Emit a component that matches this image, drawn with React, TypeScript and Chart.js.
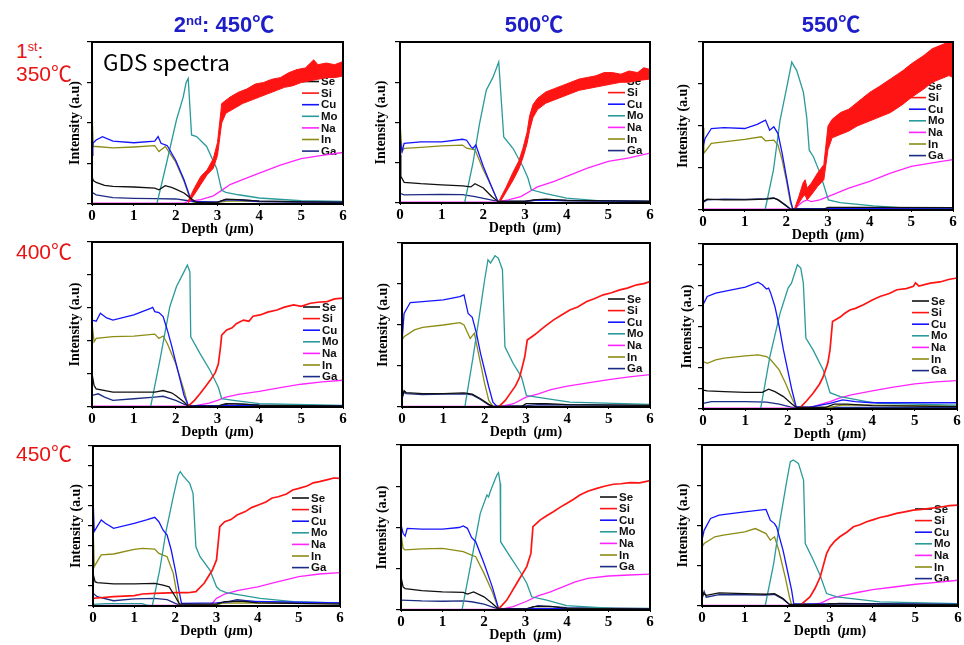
import React, { useEffect, useRef } from 'react';
import { Chart, registerables } from 'chart.js';
Chart.register(...registerables);

type Pt = [number, number];

// ---------- Row 1, col 1 (350 / 450) ----------
const P11_SE: Pt[] = [[0,17],[0.03,14.5],[0.1,13.3],[0.3,11.5],[0.5,10.9],[1.0,10.5],[1.5,9.8],[1.6,8.8],[1.75,11.3],[1.9,10.2],[2.0,9.2],[2.2,6.8],[2.4,2.7],[2.5,1],[3.0,1],[3.2,3],[3.5,2.7],[4.0,1.8],[5,1.3],[6,1.2]];
const P11_GA: Pt[] = [[0,7.2],[0.1,5.7],[0.5,3.9],[1.0,3.5],[1.5,3.3],[2.0,3.1],[2.3,2],[2.5,1],[3.0,1],[3.2,2.7],[3.6,2.5],[4,1.8],[6,1.2]];
const P11_CU: Pt[] = [[0,30],[0.02,37.5],[0.1,39.5],[0.25,41.6],[0.5,38.8],[1.0,37.8],[1.5,38.8],[1.58,41.6],[1.65,37.5],[1.75,36.5],[1.8,36],[2.0,27],[2.2,15],[2.35,3.7],[2.4,1.6],[3.0,1.2],[3.2,2.7],[3.5,2.4],[4,1.5],[6,1]];
const P11_IN: Pt[] = [[0,57],[0.03,35.5],[0.1,35.5],[0.5,34.6],[1.0,35.2],[1.5,36],[1.6,32.4],[1.75,35.5],[2.0,26],[2.2,14],[2.35,2.7],[2.45,1],[3.0,1],[3.3,2],[4,1.5],[6,1]];
const P11_MO: Pt[] = [[1.55,0],[1.78,25],[2.02,52],[2.18,66],[2.25,75],[2.3,77.5],[2.38,42.6],[2.5,41.6],[2.74,35.5],[2.98,22],[3.1,8.4],[3.2,7.2],[3.5,5.7],[4.0,3.7],[5,2],[6,1.6]];
const P11_NA: Pt[] = [[0,0.6],[2.2,0.6],[2.3,1.6],[2.6,2.7],[2.9,5],[3.1,8.4],[3.3,12],[3.6,15],[4.0,19],[4.5,24],[5.0,28],[5.5,30],[6.0,31.8]];
const P11_SI_LO: Pt[] = [[2.3,0.5],[2.45,6],[2.6,12],[2.75,18],[2.9,22],[3.0,30],[3.1,50],[3.2,56],[3.4,59],[3.6,62],[3.8,64],[4.0,66],[4.2,68],[4.4,70],[4.6,72],[4.8,73],[5.0,75],[5.2,76],[5.4,77],[5.6,78],[5.8,78],[6,79]];
const P11_SI_HI: Pt[] = [[2.3,2],[2.45,10],[2.6,17],[2.75,21],[2.9,28],[3.0,38],[3.08,57],[3.1,62],[3.3,66],[3.5,69],[3.7,71],[3.9,74],[4.1,75],[4.3,77],[4.5,78],[4.7,81],[4.9,83],[5.1,84],[5.3,89],[5.4,86],[5.6,87],[5.8,86],[6,88]];

// ---------- Row 1, col 2 (350 / 500) ----------
const P12_SE: Pt[] = [[0,30],[0.02,16.5],[0.1,12.8],[0.5,12],[1.0,11.3],[1.5,10.7],[1.7,10],[1.8,12],[2.0,9.3],[2.2,4],[2.35,1],[3.0,1],[3.2,2],[3.5,2.4],[4,1.6],[6,1]];
const P12_GA: Pt[] = [[0,6],[0.1,5],[1.0,5.4],[1.5,5.2],[1.8,4],[2.35,1],[3.0,1],[3.3,2],[4,1.4],[6,1]];
const P12_CU: Pt[] = [[0,40],[0.05,32],[0.1,37],[0.5,38],[1.0,38],[1.5,39.6],[1.6,39],[1.7,35],[1.75,34],[1.82,36],[2.0,22.7],[2.2,10],[2.35,1],[3,1],[3.3,1.8],[6,1]];
const P12_IN: Pt[] = [[0,49.5],[0.05,32],[0.1,34],[0.5,34.6],[1.0,35.5],[1.5,36],[1.6,34],[1.8,33],[2.0,20.6],[2.2,10],[2.35,1],[3,1],[3.3,1.8],[6,1]];
const P12_MO: Pt[] = [[1.55,0],[1.75,24.7],[1.91,49.5],[2.07,70],[2.23,78],[2.37,87.6],[2.49,41],[2.71,34],[2.95,22.7],[3.07,15.5],[3.15,8.2],[3.5,5.8],[4.0,3],[4.96,1],[6,1]];
const P12_NA: Pt[] = [[0,0.5],[2.3,0.5],[2.4,1],[2.6,2],[2.9,4],[3.1,7],[3.3,10],[3.7,13.4],[4.0,16.5],[4.5,21.6],[5.0,25.8],[5.5,28],[6.0,31]];
const P12_SI_LO: Pt[] = [[2.4,0.5],[2.55,7],[2.71,14],[2.85,21],[2.95,28],[3.05,37],[3.11,45],[3.19,53],[3.3,58],[3.5,62],[3.7,64],[3.9,66],[4.1,68],[4.3,70],[4.5,71],[4.7,72],[4.9,73],[5.1,74],[5.3,75],[5.5,75],[5.7,76],[6,77]];
const P12_SI_HI: Pt[] = [[2.38,1.5],[2.55,10],[2.71,19],[2.85,26],[2.95,34],[3.05,44],[3.11,54],[3.19,61],[3.3,65],[3.5,69],[3.7,71],[3.9,73],[4.1,75],[4.3,77],[4.5,78],[4.7,79],[4.9,81],[5.1,81],[5.3,80],[5.5,82],[5.7,81],[5.85,84],[6,83]];

// ---------- Row 1, col 3 (350 / 550) ----------
const P13_SE: Pt[] = [[0,5],[0.1,6.5],[0.5,6],[1.0,6],[1.5,6.5],[1.7,7],[1.8,6],[2.0,2.4],[2.1,0.5],[2.9,0.5],[3.0,1.6],[4,1.6],[6,1.4]];
const P13_GA: Pt[] = [[0,4.5],[0.1,6],[0.5,6.5],[1.0,6.3],[1.5,6.8],[1.7,7.2],[1.8,6.2],[2.0,2.6],[2.1,0.5],[6,0.6]];
const P13_CU: Pt[] = [[0,37.6],[0.05,42.6],[0.2,48.5],[0.5,49],[1.0,48.5],[1.3,51],[1.5,53.5],[1.6,47.5],[1.7,49.5],[1.8,45.5],[1.9,33.7],[2.0,19.8],[2.1,6],[2.15,1],[6,0.6]];
const P13_IN: Pt[] = [[0,49],[0.02,33.7],[0.2,39.6],[0.5,40.6],[1.0,42],[1.4,43.6],[1.5,41.2],[1.7,41.6],[1.8,38.6],[1.9,29.7],[2.0,17.8],[2.1,4],[2.15,1],[6,0.6]];
const P13_MO: Pt[] = [[1.49,0],[1.69,23.8],[1.85,53.5],[2.01,73],[2.13,88],[2.25,83],[2.41,70],[2.49,55],[2.55,35.6],[2.65,31.7],[2.81,21.8],[3.01,6],[3.29,4.4],[4.09,2.4],[5,1],[6,0.8]];
const P13_NA: Pt[] = [[0,0.5],[2.2,0.5],[2.3,3],[2.4,5],[2.5,6],[2.6,5],[2.8,6],[3.0,8],[3.5,13],[4.0,17],[4.5,22],[5.0,26],[5.5,28],[6.0,30]];
const P13_SI_LO: Pt[] = [[2.2,0],[2.3,4],[2.4,8],[2.45,9],[2.5,6],[2.6,9],[2.75,14],[2.9,18],[3.0,36],[3.1,43],[3.3,45],[3.5,47],[3.7,50],[4.0,53],[4.2,55],[4.5,58],[4.8,63],[5.0,67],[5.3,72],[5.5,76],[5.7,78],[5.9,80],[6,79]];
const P13_SI_HI: Pt[] = [[2.2,1],[2.3,8],[2.4,16],[2.45,18],[2.5,13],[2.6,16],[2.75,22],[2.9,27],[3.0,50],[3.1,54],[3.3,58],[3.5,60],[3.7,64],[4.0,70],[4.2,73],[4.5,78],[4.8,83],[5.0,87],[5.3,92],[5.5,96],[5.7,98],[5.9,100],[6,99]];

// ---------- Row 2, col 1 (400 / 450) ----------
const P21_SE: Pt[] = [[0,20.3],[0.05,13],[0.1,11],[0.5,9],[1.0,9],[1.5,9],[1.7,10],[1.9,8.6],[2.0,7],[2.2,3],[2.3,0.5],[3.0,0.5],[3.2,2],[3.6,1.8],[4,1],[6,0.6]];
const P21_GA: Pt[] = [[0,7],[0.15,8],[0.3,6],[0.5,4],[1.0,5],[1.5,6],[1.7,6.5],[2.0,4],[2.3,0.5],[3.0,0.5],[3.3,2],[4,1.2],[6,0.6]];
const P21_CU: Pt[] = [[0,52.7],[0.1,52],[0.2,56.8],[0.35,54],[0.5,52.7],[1.0,55.8],[1.4,59.8],[1.45,60.4],[1.5,57.8],[1.6,57.2],[1.7,54.8],[1.8,46.7],[1.9,37.5],[2.0,27.4],[2.1,17.2],[2.2,7],[2.3,1],[6,0.6]];
const P21_IN: Pt[] = [[0,50.7],[0.05,39.5],[0.1,41.6],[0.5,42.6],[1.0,43],[1.5,44.2],[1.6,41.6],[1.7,43],[1.8,38.5],[2.0,26.4],[2.2,10],[2.3,0.5],[6,0.5]];
const P21_MO: Pt[] = [[1.4,0],[1.62,28],[1.86,60.8],[2.02,73],[2.18,81],[2.28,86],[2.34,82],[2.36,42.6],[2.58,32.5],[2.82,22.3],[3.02,12],[3.1,5],[3.38,4],[4.0,2],[6,1]];
const P21_NA: Pt[] = [[0,0.5],[2.3,0.5],[2.5,1],[2.8,2.4],[3.0,4],[3.2,6],[3.5,7.7],[4.0,9.5],[4.5,11.8],[5.0,13.8],[5.5,15.2],[6.0,16.2]];
const P21_SI: Pt[] = [[2.3,0.5],[2.45,4],[2.58,8],[2.7,12],[2.82,16],[2.95,21],[3.02,26],[3.07,36],[3.1,43.6],[3.22,46.7],[3.35,48],[3.45,50.5],[3.62,52.7],[3.75,52],[3.85,55],[4.02,55.8],[4.2,57.5],[4.42,58.8],[4.6,60.5],[4.82,61.9],[5.0,61],[5.22,62.9],[5.4,63.5],[5.62,63.9],[5.8,65.5],[6.0,66]];

// ---------- Row 2, col 2 (400 / 500) ----------
const P22_SE: Pt[] = [[0,6],[0.05,10],[0.1,8.8],[0.5,8.2],[1.0,8.2],[1.5,8.6],[1.7,7.8],[1.9,5],[2.1,1.6],[2.2,0.4],[2.9,0.4],[3.0,2],[3.5,2],[4,1.5],[6,1]];
const P22_GA: Pt[] = [[0,5],[0.05,9],[0.1,8.2],[0.5,7.6],[1.0,7.8],[1.5,8],[1.7,7.4],[1.9,4.6],[2.1,1.2],[2.2,0.4],[3.0,0.8],[3.3,1.4],[6,1]];
const P22_CU: Pt[] = [[0,40],[0.05,57],[0.2,63.7],[0.5,64.3],[1.0,65.3],[1.4,67.3],[1.5,68.4],[1.6,57],[1.7,54.7],[1.8,45],[1.9,32.7],[2.0,22.4],[2.1,12.2],[2.2,3],[2.3,0.4],[6,0.4]];
const P22_IN: Pt[] = [[0,40.8],[0.05,42.9],[0.3,47],[0.5,48.6],[1.0,50],[1.4,51.4],[1.5,50],[1.65,41.8],[1.75,45],[1.85,32.7],[2.0,14.3],[2.1,4],[2.2,0.4],[6,0.4]];
const P22_MO: Pt[] = [[1.52,0],[1.72,30.6],[1.88,57],[2.0,77.6],[2.08,89.8],[2.14,87.8],[2.25,92.2],[2.33,90.8],[2.43,83.7],[2.49,36.7],[2.69,26.5],[2.89,18.4],[3.01,7],[3.26,6],[4.06,3],[6,1.6]];
const P22_NA: Pt[] = [[0,0.4],[2.4,0.4],[2.7,2],[3.0,6],[3.3,8],[3.6,10.6],[4.0,12.7],[4.5,14.7],[5.0,16.7],[5.5,18.4],[6.0,19.8]];
const P22_SI: Pt[] = [[2.35,0.4],[2.5,4],[2.61,8],[2.75,13],[2.85,18.4],[2.97,30.6],[3.03,40.8],[3.15,43],[3.26,45],[3.45,49],[3.66,53],[3.85,56],[4.06,59.2],[4.25,61],[4.47,64.3],[4.65,66],[4.87,68.4],[5.05,69.5],[5.27,71.4],[5.45,72.5],[5.68,74.5],[5.85,75.2],[6,76.5]];

// ---------- Row 2, col 3 (400 / 550) ----------
const P23_SE: Pt[] = [[0,11.5],[0.1,11],[0.5,10.5],[1.0,10.1],[1.4,10.1],[1.55,12],[1.7,10.5],[1.9,7.5],[2.1,3],[2.2,1],[2.9,1],[3.1,3],[3.4,3],[4.0,2],[6,1.4]];
const P23_GA: Pt[] = [[0,3.4],[0.2,4.5],[1.0,4.5],[1.5,4.2],[1.8,3],[2.1,1],[6,1]];
const P23_CU: Pt[] = [[0,63.2],[0.1,68.2],[0.3,70.2],[0.5,71.3],[1.0,73.9],[1.3,76.9],[1.4,75.3],[1.5,72.7],[1.55,73.3],[1.6,70.2],[1.7,62],[1.8,50],[1.9,35.8],[2.0,23.7],[2.1,11.5],[2.2,1.4],[2.5,1],[3.0,3.4],[3.3,5.5],[3.6,4.5],[4.0,3.8],[6,3.8]];
const P23_IN: Pt[] = [[0,28.7],[0.1,27.7],[0.3,29.8],[0.5,30.8],[1.0,32.2],[1.3,32.8],[1.5,31.8],[1.6,29.8],[1.8,23.7],[1.95,15.6],[2.1,6.5],[2.2,1],[3.0,1],[3.3,2.5],[6,1.8]];
const P23_MO: Pt[] = [[1.36,0],[1.58,31.8],[1.82,58],[2.01,73.3],[2.09,76.3],[2.23,87.4],[2.31,85.4],[2.37,76.3],[2.43,43],[2.6,35.8],[2.84,23.7],[3.0,9.9],[3.24,7.5],[3.87,4.5],[4.18,3.4],[6,2.4]];
const P23_NA: Pt[] = [[0,0.5],[2.3,0.5],[2.6,1.4],[3.0,4.5],[3.2,6.5],[3.5,8.5],[4.0,11],[4.5,13.2],[5.0,15.2],[5.5,16.4],[6.0,17.2]];
const P23_SI: Pt[] = [[2.3,1],[2.45,5],[2.6,9.5],[2.75,15],[2.84,19.6],[2.95,28],[3.0,35.8],[3.06,53],[3.24,55.7],[3.35,58],[3.47,60],[3.6,61],[3.79,63.2],[4.0,66],[4.18,68.2],[4.4,70],[4.58,72.3],[4.8,73],[4.97,74.3],[5.02,76.5],[5.1,74.5],[5.37,76.3],[5.6,77],[5.8,78.5],[6,79.4]];

// ---------- Row 3, col 1 (450 / 450) ----------
const P31_SE: Pt[] = [[0,20.4],[0.05,15.2],[0.1,14.6],[0.5,13.8],[1.0,13.8],[1.5,14.2],[1.7,13],[1.85,12],[2.0,5.8],[2.1,1.2],[3.0,1.2],[3.2,2.7],[3.6,3],[4,2],[6,1.2]];
const P31_GA: Pt[] = [[0,8],[0.1,5.8],[0.5,3.3],[1.0,4.4],[1.5,4.8],[1.8,4],[2.0,1.6],[2.1,0.5],[3.0,1],[3.5,4],[4,2.6],[6,1.6]];
const P31_CU: Pt[] = [[0,68],[0.03,46.5],[0.1,49.6],[0.2,53.8],[0.3,51.7],[0.5,48.5],[1.0,51.7],[1.3,53.8],[1.5,55.4],[1.6,52.7],[1.7,47.5],[1.8,44.4],[1.9,35],[2.0,22.5],[2.1,8],[2.15,1.6],[3.0,2],[3.5,3],[6,2]];
const P31_IN: Pt[] = [[0,51.7],[0.03,24.6],[0.1,27.7],[0.2,31.9],[0.5,32.5],[1.0,35.4],[1.2,36],[1.5,35.6],[1.6,32.9],[1.8,30.8],[1.95,20.4],[2.05,5.8],[2.1,0.6],[3.0,1],[3.2,2],[6,1.8]];
const P31_MO: Pt[] = [[0,1],[0.3,1.5],[1.2,1.5],[1.3,0.5],[1.44,0],[1.62,22.5],[1.78,47.5],[1.95,68.3],[2.07,81.9],[2.12,84],[2.19,81.3],[2.35,76.7],[2.43,70.4],[2.5,37],[2.6,30.8],[2.84,22.5],[3.0,12],[3.08,10],[3.24,8.3],[4.06,4.8],[4.87,2.7],[6,2]];
const P31_NA: Pt[] = [[0,0.4],[2.8,0.4],[2.9,1.7],[3.0,4.8],[3.2,7.5],[3.5,9.6],[4.0,12],[4.5,15.2],[5.0,18.3],[5.5,20],[6.0,20.8]];
const P31_SI: Pt[] = [[0,4.8],[0.1,5],[0.5,5.8],[1.0,6.5],[1.2,7.5],[1.5,7.9],[2.0,8.3],[2.3,8.3],[2.5,9],[2.7,14.2],[2.9,22.5],[3.0,28.8],[3.08,49.6],[3.2,52.7],[3.35,54],[3.5,56.9],[3.7,59],[3.85,61.5],[4.0,63],[4.2,65],[4.35,67.5],[4.5,68.3],[4.7,70],[4.85,72.5],[5.0,73.5],[5.2,75],[5.35,77],[5.5,77.7],[5.7,79],[5.85,80],[6.0,79.8]];

// ---------- Row 3, col 2 (450 / 500) ----------
const P32_SE: Pt[] = [[0,20],[0.05,14],[0.1,13],[0.5,11.7],[1.0,11],[1.5,10.7],[1.6,9.7],[1.75,11],[2.0,8],[2.2,4],[2.35,0.6],[3.0,0.6],[3.2,2],[3.6,2.2],[4,1],[6,0.6]];
const P32_GA: Pt[] = [[0,6],[0.5,5.5],[1.0,5.3],[1.5,5.5],[1.7,5],[2.0,3.6],[2.35,0.6],[3.0,0.6],[3.3,2.6],[4,1.4],[6,0.8]];
const P32_CU: Pt[] = [[0,51.5],[0.05,46.5],[0.1,44.8],[0.15,49.5],[0.5,49],[1.0,49],[1.4,50],[1.5,51],[1.6,49.5],[1.7,44],[1.8,41.4],[2.0,28.3],[2.2,14],[2.35,1],[6,0.6]];
const P32_IN: Pt[] = [[0,46.5],[0.05,37.4],[0.1,36.4],[0.5,37],[1.0,37.4],[1.5,35.4],[1.7,33.3],[1.8,32.3],[2.0,22.2],[2.2,11],[2.35,0.6],[6,0.6]];
const P32_MO: Pt[] = [[1.47,0],[1.67,26.3],[1.91,58.6],[2.07,69.7],[2.11,68.5],[2.15,71.7],[2.23,76.8],[2.31,81.8],[2.35,83.2],[2.39,76.8],[2.4,41.4],[2.63,32.3],[2.87,23.2],[3.03,16.2],[3.15,8],[3.51,6],[3.99,2.6],[5.12,1],[6,1]];
const P32_NA: Pt[] = [[0,0.4],[2.4,0.4],[2.7,2],[3.0,5],[3.3,8.5],[3.6,11],[3.9,14],[4.2,17],[4.5,19.2],[5.0,20.6],[5.5,21.2],[6.0,21.8]];
const P32_SI: Pt[] = [[2.35,0.5],[2.55,6],[2.79,16.2],[3.03,26.3],[3.13,34.3],[3.18,50.5],[3.35,54.5],[3.5,57],[3.67,59.6],[3.85,62.5],[3.99,64.6],[4.15,67],[4.31,69.7],[4.5,72],[4.72,73.7],[4.9,75],[5.12,76.2],[5.3,76.5],[5.52,77.2],[5.75,77],[6,78.4]];

// ---------- Row 3, col 3 (450 / 550) ----------
const P33_SE: Pt[] = [[0,4.6],[0.03,8],[0.1,6.6],[0.4,8.1],[1.0,7.7],[1.5,7.3],[1.7,7.7],[1.9,4.6],[2.05,1],[2.9,1],[3.0,1.5],[6,0.8]];
const P33_GA: Pt[] = [[0,4.6],[0.05,9],[0.1,5.5],[0.4,7],[1.0,7],[1.5,6.8],[1.7,7.2],[1.9,4.2],[2.05,0.8],[3.0,0.8],[3.2,1.6],[6,0.8]];
const P33_CU: Pt[] = [[0,40.9],[0.05,47],[0.2,54.4],[0.4,56.4],[1.0,58.5],[1.5,60],[1.6,53.3],[1.7,51.2],[1.75,49],[1.9,34.6],[2.0,22.2],[2.1,9.8],[2.15,1.5],[6,1]];
const P33_IN: Pt[] = [[0,36.7],[0.05,38.8],[0.3,43],[0.5,44],[1.0,46],[1.25,48.1],[1.5,45],[1.6,40.9],[1.7,43],[1.8,34.6],[1.95,18],[2.05,5.6],[2.1,0.6],[6,0.6]];
const P33_MO: Pt[] = [[1.48,0],[1.68,26.3],[1.83,53.3],[1.99,78.2],[2.07,89.6],[2.14,90.7],[2.26,88.6],[2.38,78.2],[2.42,38.8],[2.61,28.4],[2.77,19],[2.92,7.7],[3.16,5.6],[4.17,2.5],[6,1.5]];
const P33_NA: Pt[] = [[0,0.4],[2.5,0.4],[2.8,1.9],[3.0,4.6],[3.3,6.6],[3.7,8.7],[4.0,10.2],[4.5,11.8],[5.0,13.5],[5.5,14.7],[6.0,16]];
const P33_SI: Pt[] = [[2.3,0.4],[2.53,5.6],[2.65,11],[2.77,18],[2.92,32.6],[3.0,36.7],[3.1,40],[3.23,43],[3.4,46],[3.55,49.2],[3.7,50.5],[3.86,52.3],[4.0,53.5],[4.17,55],[4.35,56],[4.56,57.5],[4.75,58.5],[4.95,59.5],[5.15,60],[5.34,60.6],[5.6,61.5],[5.8,62.3],[6,62.7]];

const ELEMENTS = ['Se', 'Si', 'Cu', 'Mo', 'Na', 'In', 'Ga'];
const X_TICKS = [0, 1, 2, 3, 4, 5, 6];
const COLORS: Record<string, string> = {
  Se: '#111111', Si: '#FF1414', Cu: '#1414FF', Mo: '#2A9A9A', Na: '#FF24FF', In: '#8C8C14', Ga: '#1C2C84',
};

interface PanelCfg {
  box: [number, number, number, number];
  yDiv: number;
  legend: [number, number];
  yGap: number;
  series: Record<string, Pt[]>;
  siBand?: [Pt[], Pt[]];
}

const PANELS: PanelCfg[] = [
  { box: [92, 42, 343, 204], yDiv: 4, legend: [302, 81.5], yGap: 17,
    series: { Se: P11_SE, Cu: P11_CU, Mo: P11_MO, Na: P11_NA, In: P11_IN, Ga: P11_GA }, siBand: [P11_SI_LO, P11_SI_HI] },
  { box: [400, 42, 650, 203], yDiv: 4, legend: [608, 81], yGap: 19,
    series: { Se: P12_SE, Cu: P12_CU, Mo: P12_MO, Na: P12_NA, In: P12_IN, Ga: P12_GA }, siBand: [P12_SI_LO, P12_SI_HI] },
  { box: [703, 42, 953, 210], yDiv: 4, legend: [909, 86], yGap: 20,
    series: { Se: P13_SE, Cu: P13_CU, Mo: P13_MO, Na: P13_NA, In: P13_IN, Ga: P13_GA }, siBand: [P13_SI_LO, P13_SI_HI] },
  { box: [92, 242, 343, 407], yDiv: 5, legend: [303, 307], yGap: 17,
    series: { Se: P21_SE, Si: P21_SI, Cu: P21_CU, Mo: P21_MO, Na: P21_NA, In: P21_IN, Ga: P21_GA } },
  { box: [402, 243, 650, 407], yDiv: 4, legend: [608, 299], yGap: 19,
    series: { Se: P22_SE, Si: P22_SI, Cu: P22_CU, Mo: P22_MO, Na: P22_NA, In: P22_IN, Ga: P22_GA } },
  { box: [703, 244, 957, 409], yDiv: 8, legend: [912, 301], yGap: 16,
    series: { Se: P23_SE, Si: P23_SI, Cu: P23_CU, Mo: P23_MO, Na: P23_NA, In: P23_IN, Ga: P23_GA } },
  { box: [93, 446, 340, 606], yDiv: 8, legend: [292, 498], yGap: 17,
    series: { Se: P31_SE, Si: P31_SI, Cu: P31_CU, Mo: P31_MO, Na: P31_NA, In: P31_IN, Ga: P31_GA } },
  { box: [401, 445, 650, 610], yDiv: 4, legend: [600, 497], yGap: 19,
    series: { Se: P32_SE, Si: P32_SI, Cu: P32_CU, Mo: P32_MO, Na: P32_NA, In: P32_IN, Ga: P32_GA } },
  { box: [702, 445, 958, 606], yDiv: 4, legend: [915, 509], yGap: 19,
    series: { Se: P33_SE, Si: P33_SI, Cu: P33_CU, Mo: P33_MO, Na: P33_NA, In: P33_IN, Ga: P33_GA } },
];

const PADL = 40, PADT = 8, PADR = 8, PADB = 36;
const SERIF = '"Liberation Serif", "Times New Roman", serif';
const SANS = '"Liberation Sans", Arial, sans-serif';
const CJK = 'Arial, "Liberation Sans", "Noto Sans CJK KR", sans-serif';

function Panel({ cfg }: { cfg: PanelCfg }) {
  const ref = useRef<HTMLCanvasElement>(null);
  const [l, t, r, b] = cfg.box;
  const W = r - l + PADL + PADR;
  const H = b - t + PADT + PADB;
  const cl = l - PADL;
  const ct = t - PADT;

  useEffect(() => {
    if (!ref.current) return;
    const mk = (pts: Pt[]) => pts.map(([x, y]) => ({ x, y }));
    const datasets: any[] = [];
    ELEMENTS.forEach((n, i) => {
      const order = i + 1;
      if (n === 'Si' && cfg.siBand) {
        datasets.push({ label: 'Si-lo', data: mk(cfg.siBand[0]), borderColor: COLORS.Si, borderWidth: 1, pointRadius: 0, fill: false, order });
        datasets.push({ label: 'Si-hi', data: mk(cfg.siBand[1]), borderColor: COLORS.Si, borderWidth: 1, pointRadius: 0, fill: '-1', backgroundColor: COLORS.Si, order });
      } else if (cfg.series[n]) {
        datasets.push({ label: n, data: mk(cfg.series[n]), borderColor: COLORS[n], borderWidth: n === 'Si' ? 1.7 : 1.3, pointRadius: 0, fill: false, order });
      }
    });

    const deco = {
      id: 'deco',
      beforeDatasetsDraw(chart: any) {
        const ctx = chart.ctx;
        ctx.save();
        ctx.font = `bold 11.5px ${SANS}`;
        ctx.textBaseline = 'middle';
        ctx.textAlign = 'left';
        ELEMENTS.forEach((n, i) => {
          const x = cfg.legend[0] - cl;
          const y = cfg.legend[1] - ct + i * 11.6;
          ctx.strokeStyle = COLORS[n];
          ctx.lineWidth = 1.6;
          ctx.beginPath();
          ctx.moveTo(x, y);
          ctx.lineTo(x + 17, y);
          ctx.stroke();
          ctx.fillStyle = '#111';
          ctx.fillText(n, x + 19, y + 0.5);
        });
        ctx.restore();
      },
      afterDatasetsDraw(chart: any) {
        const ctx = chart.ctx;
        const a = chart.chartArea;
        ctx.save();
        ctx.strokeStyle = '#000';
        ctx.lineWidth = 2;
        ctx.strokeRect(a.left, a.top, a.right - a.left, a.bottom - a.top);
        ctx.fillStyle = '#000';
        ctx.font = `bold 14px ${SERIF}`;
        ctx.textAlign = 'center';
        ctx.textBaseline = 'middle';
        ctx.translate(a.left - cfg.yGap, (a.top + a.bottom) / 2);
        ctx.rotate(-Math.PI / 2);
        ctx.fillText('Intensity (a.u)', 0, 0);
        ctx.restore();
        ctx.save();
        ctx.fillStyle = '#000';
        ctx.textBaseline = 'middle';
        ctx.textAlign = 'left';
        const f1 = `bold 14px ${SERIF}`;
        const f2 = `italic bold 14px ${SERIF}`;
        const parts: [string, string][] = [['Depth  (', f1], ['\u03bc', f2], ['m)', f1]];
        let total = 0;
        parts.forEach(([s, f]) => { ctx.font = f; total += ctx.measureText(s).width; });
        let x = (a.left + a.right) / 2 - total / 2;
        const y = a.bottom + 25;
        parts.forEach(([s, f]) => { ctx.font = f; ctx.fillText(s, x, y); x += ctx.measureText(s).width; });
        ctx.restore();
      },
    };

    const chart = new Chart(ref.current, {
      type: 'line',
      data: { datasets },
      options: {
        animation: false,
        responsive: false,
        maintainAspectRatio: false,
        devicePixelRatio: 1,
        layout: { padding: { left: 0, top: PADT, right: PADR, bottom: 0 } },
        plugins: { legend: { display: false }, tooltip: { enabled: false }, title: { display: false } },
        elements: { line: { tension: 0 }, point: { radius: 0 } },
        scales: {
          x: {
            type: 'linear', min: 0, max: 6,
            afterBuildTicks: (s: any) => { s.ticks = X_TICKS.map((v) => ({ value: v })); },
            ticks: { color: '#000', font: { family: SERIF, size: 15, weight: 'bold' }, padding: 1, maxRotation: 0, autoSkip: false },
            grid: { display: true, drawOnChartArea: false, drawTicks: true, tickLength: 2, color: '#000' },
            border: { display: true, color: '#000', width: 2 },
            afterFit: (s: any) => { s.height = PADB; },
          },
          y: {
            type: 'linear', min: 0, max: 100,
            ticks: { display: false, stepSize: 100 / cfg.yDiv },
            grid: { display: true, drawOnChartArea: false, drawTicks: true, tickLength: 5, color: '#000', lineWidth: 1.2 },
            border: { display: true, color: '#000', width: 2 },
            afterFit: (s: any) => { s.width = PADL; },
          },
        },
      } as any,
      plugins: [deco],
    });
    return () => chart.destroy();
  }, []);

  return (
    <canvas ref={ref} width={W} height={H}
      style={{ position: 'absolute', left: cl, top: ct, width: W, height: H }} />
  );
}

function Label({ x, y, color, size, weight, children, center }: any) {
  return (
    <div style={{
      position: 'absolute', left: x, top: y, color, fontSize: size, fontWeight: weight,
      fontFamily: CJK, lineHeight: 1, whiteSpace: 'nowrap',
      transform: center ? 'translate(-50%, -50%)' : 'translate(0, -50%)',
    }}>{children}</div>
  );
}

export default function App() {
  const blue = '#1E1EC8';
  const red = '#E81414';
  const sup = { fontSize: '0.6em', position: 'relative' as const, top: '-0.55em', verticalAlign: 'baseline' };
  return (
    <div style={{ position: 'absolute', left: 0, top: 0, width: 964, height: 645, background: '#fff', overflow: 'hidden' }}>
      {PANELS.map((p, i) => <Panel key={i} cfg={p} />)}
      <Label x={224} y={25} color={blue} size={22} weight="bold" center>2<span style={sup}>nd</span>: 450℃</Label>
      <Label x={534} y={25} color={blue} size={22} weight="bold" center>500℃</Label>
      <Label x={831} y={25} color={blue} size={22} weight="bold" center>550℃</Label>
      <Label x={16} y={50} color={red} size={21} weight="normal">1<span style={sup}>st</span>:</Label>
      <Label x={16} y={73} color={red} size={21} weight="normal">350℃</Label>
      <Label x={16} y={251} color={red} size={21} weight="normal">400℃</Label>
      <Label x={16} y={453} color={red} size={21} weight="normal">450℃</Label>
      <div style={{ position: 'absolute', left: 103, top: 50, fontSize: 22.5, fontFamily: '"Noto Sans CJK KR", "Noto Sans", sans-serif', lineHeight: 1, color: '#000' }}>GDS spectra</div>
    </div>
  );
}
